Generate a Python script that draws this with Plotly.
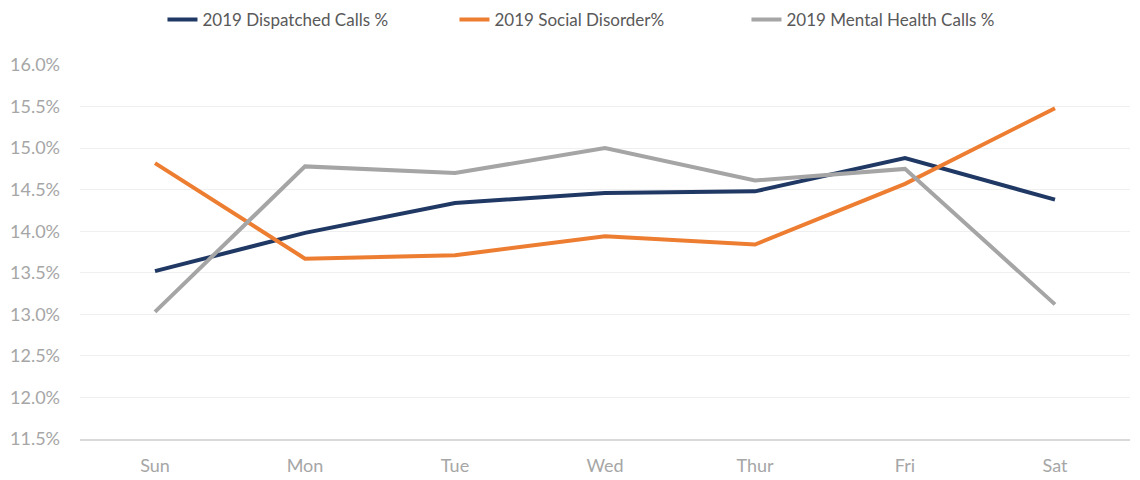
import plotly.graph_objects as go

days = ["Sun", "Mon", "Tue", "Wed", "Thur", "Fri", "Sat"]
dispatched = [13.52, 13.98, 14.34, 14.46, 14.48, 14.88, 14.38]
social = [14.82, 13.67, 13.71, 13.94, 13.84, 14.57, 15.48]
mental = [13.03, 14.78, 14.70, 15.00, 14.61, 14.75, 13.12]

series = [
    ("2019 Dispatched Calls %", dispatched, "#203864"),
    ("2019 Social Disorder%", social, "#ED7D31"),
    ("2019 Mental Health Calls %", mental, "#A5A5A5"),
]

fig = go.Figure()
for name, vals, col in series:
    fig.add_trace(go.Scatter(x=days, y=vals, mode="lines", name=name,
                             line=dict(color=col, width=4)))

font_family = "Lato, Liberation Sans, sans-serif"
fig.update_layout(
    width=1140, height=480,
    margin=dict(l=72, r=18, t=57, b=49, autoexpand=False),
    paper_bgcolor="white", plot_bgcolor="white",
    font=dict(family=font_family, size=18, color="#a6a6a6"),
    legend=dict(orientation="h", x=0.1355, xanchor="left", xref="container",
                y=0.975, yanchor="middle", yref="container",
                font=dict(size=17, color="#595959"),
                entrywidth=247, entrywidthmode="pixels"),
    showlegend=True,
)
fig.update_xaxes(type="category", range=[-0.5, 6.5], showgrid=False,
                 showline=True, linecolor="#d9d9d9", linewidth=1.5,
                 ticks="", tickfont=dict(size=18, color="#a6a6a6"),
                 ticklabelstandoff=10)
fig.update_yaxes(range=[11.5, 16.0], dtick=0.5, tick0=11.5, tickformat=".1f",
                 ticksuffix="%", showgrid=True, gridcolor="#efefef", gridwidth=1,
                 zeroline=False, showline=False, ticks="",
                 tickfont=dict(size=18, color="#a6a6a6"), ticklabelstandoff=19)
fig.write_html("out.html")
